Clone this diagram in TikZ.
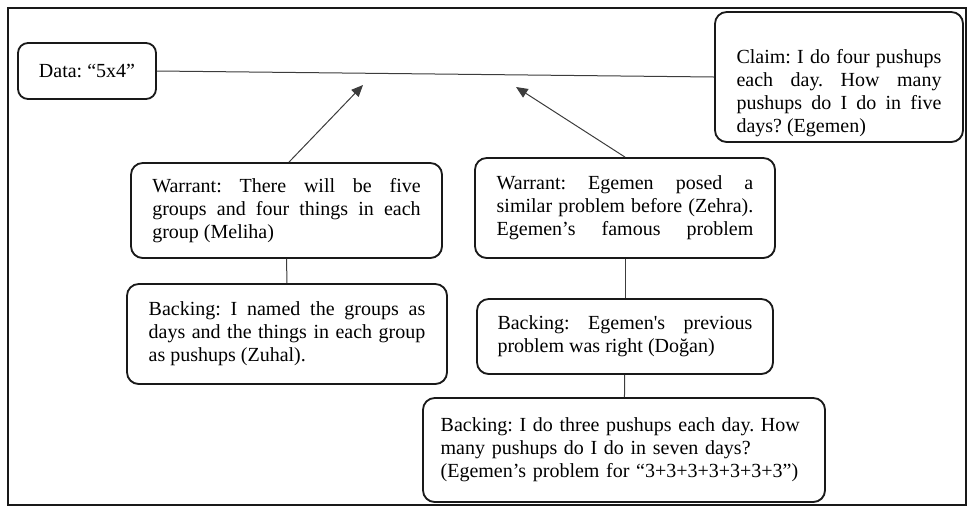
\documentclass[tikz,border=0pt]{standalone}
\usepackage{fontspec}
\setmainfont{Liberation Serif}
\newfontfamily\rawserif{Liberation Serif}[Ligatures=TeXOff]
\usetikzlibrary{arrows.meta}
\frenchspacing
\definecolor{TwInk}{RGB}{25,25,25}
\definecolor{TwLine}{RGB}{60,60,60}
\tikzset{
  tw/box/.style={
    draw=TwInk,
    line width=1.1pt,
    rounded corners=7pt,
    fill=white,
    align=justify,
    text=black,
    inner sep=0pt,
    font=\fontsize{12}{13.8}\selectfont
  },
  tw/frame/.style={draw=TwInk, line width=1pt},
  tw/link/.style={draw=TwLine, line width=0.6pt},
  tw/arrow/.style={-{Triangle[length=7pt,width=6pt]}, line width=0.6pt, draw=TwLine}
}

\begin{document}
\begin{tikzpicture}[x=0.6pt,y=-0.6pt]
  \useasboundingbox (0,0) rectangle (969,507);
  \draw[tw/frame] (8,8) rectangle (966,505);

  \node[tw/box,align=center,minimum width=82.8pt,minimum height=33.6pt,rounded corners=6pt] (data) at (87,71) {Data: “5x4”};
  \node[tw/box,text width=123pt,minimum width=148.8pt,minimum height=78pt] (claim) at (839,77)
    {\rule{0pt}{28pt}Claim: I do four pushups\linebreak each day. How many\linebreak pushups do I do in five\linebreak days? (Egemen)};
  \node[tw/box,text width=161pt,minimum width=186.6pt,minimum height=57pt] (warrantA) at (286.5,210.5)
    {Warrant: There will be five\linebreak groups and four things in each\linebreak group (Meliha)};
  \node[tw/box,text width=154pt,minimum width=180pt,minimum height=60pt] (warrantB) at (625,208)
    {Warrant: Egemen posed a\linebreak similar problem before (Zehra).\linebreak Egemen’s famous problem{\parfillskip=0pt\par}};
  \node[tw/box,text width=166pt,minimum width=192pt,minimum height=60pt] (backingA) at (287,334)
    {Backing: I named the groups as\linebreak days and the things in each group\linebreak as pushups (Zuhal).};
  \node[tw/box,text width=153pt,minimum width=177.6pt,minimum height=45pt] (backingB) at (625,336.5)
    {Backing: Egemen{\rawserif '}s previous\linebreak problem was right (Doğan)};
  \node[tw/box,align=left,text width=220pt,minimum width=241.2pt,minimum height=62.4pt] (backingC) at (624,450)
    {Backing: I do three pushups each day. How\\ many pushups do I do in seven days?\\ (Egemen’s problem for “3+3+3+3+3+3+3”)};

  \coordinate (tipA) at (363,85);
  \coordinate (tipB) at (516,87);

  \draw[tw/link] (data.east) -- (claim.west);
  \draw[tw/arrow] (warrantA.north) ++(2.5,0) -- (tipA);
  \draw[tw/arrow] (warrantB.north) -- (tipB);
  \draw[tw/link] (warrantA) -- (backingA);
  \draw[tw/link] (warrantB) -- (backingB);
  \draw[tw/link] (backingB) -- (backingC);
\end{tikzpicture}
\end{document}
